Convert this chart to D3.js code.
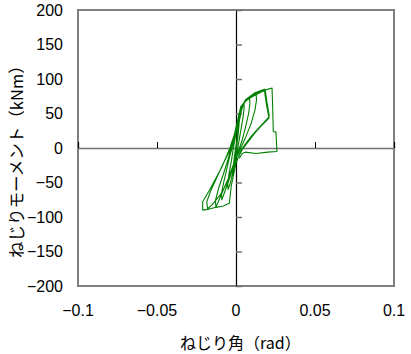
<!DOCTYPE html>
<html><head><meta charset="utf-8">
<script src="https://cdn.jsdelivr.net/npm/d3@7"></script>
<style>
html,body{margin:0;padding:0;background:#fff;}
text{font-family:"Liberation Sans",Arial,sans-serif;}
.jp{font-family:"Noto Sans CJK JP",sans-serif;}
</style></head>
<body><svg id="c" width="411" height="354"></svg>
<script>
// rotation (rad)
const rotation = [
0,0.0005,0.001,0.0018,0.0022,0.0018,0.001,0,-0.001,-0.0018,-0.0022,-0.0018,-0.001,0,
0.001,0.002,0.0035,0.005,0.0052,0.0045,0.003,0.0015,0,-0.002,-0.0035,-0.005,-0.0052,-0.0045,-0.003,-0.0018,0,
0.0015,0.003,0.0055,0.0085,0.0088,0.008,0.006,0.004,0.001,-0.002,-0.005,-0.0075,-0.009,-0.0092,-0.008,-0.006,-0.004,-0.0025,0,
0.002,0.0045,0.008,0.0127,0.013,0.012,0.0095,0.006,0.003,-0.001,-0.005,-0.009,-0.0127,-0.013,-0.011,-0.008,-0.005,-0.003,0,
0.0025,0.006,0.012,0.018,0.0185,0.0195,0.0205,0.021,0.0195,0.016,0.012,0.008,0.004,0,-0.005,-0.01,-0.015,-0.018,-0.0185,-0.016,-0.012,-0.008,-0.004,-0.002,0.001,
0.003,0.006,0.01,0.015,0.0184,0.0195,0.0204,0.021,0.0205,0.018,0.014,0.01,0.006,0.003,0,-0.003,-0.0042,-0.008,-0.0127,-0.018,-0.0211,-0.0211,-0.017,-0.013,-0.009,-0.004,-0.001,0.002,0.0053,
0.01,0.015,0.02,0.0228,0.0232,0.0236,0.0253,0.0259,0.02,0.0127,0.006,0.004,0.002
];
// torsional moment (kNm)
const moment = [
0,12,25,38,42,30,12,-5,-20,-35,-40,-28,-12,3,
20,38,55,66,60,45,25,5,-15,-35,-50,-60,-52,-38,-20,-2,22,
40,55,66,73,65,50,30,12,-8,-30,-50,-66,-75,-66,-52,-32,-12,0,25,
48,64,72,79,70,55,35,15,0,-20,-45,-66,-86,-76,-58,-38,-16,0,30,
55,70,80,85,75,60,48,44,40,32,22,10,-2,-20,-48,-68,-82,-88,-78,-62,-42,-22,-4,10,35,
60,68,75,82,85,68,55,47,44,38,28,18,6,-4,-22,-55,-80,-84,-86,-89,-90,-78,-62,-45,-28,-1,20,45,67,
74,80,85,87,60,24,23,-5,-6,-8,-6,-8,-15
];
const xTicks = [-0.1,-0.05,0,0.05,0.1];
const yTicks = [-200,-150,-100,-50,0,50,100,150,200];
const xTitle = "ねじり角（rad）";
const yTitle = "ねじりモーメント（kNm）";

const L=78,R=394,T=10,B=286;
const x=d3.scaleLinear().domain([-0.1,0.1]).range([L,R]);
const y=d3.scaleLinear().domain([-200,200]).range([B,T]);
const svg=d3.select("#c");
const fmt=v=>(v<0?"\u2212":"")+String(Math.abs(v));

svg.append("rect").attr("x",L).attr("y",T).attr("width",R-L).attr("height",B-T)
  .attr("fill","none").attr("stroke","#808080").attr("stroke-width",2);

// horizontal zero axis with ticks up
const gx=svg.append("g").attr("transform",`translate(0,${y(0)})`)
  .call(d3.axisTop(x).tickValues(xTicks).tickSize(6).tickFormat(""));
gx.select(".domain").attr("stroke","#707070").attr("stroke-width",1.5);
gx.selectAll(".tick line").attr("stroke","#000");
// vertical zero axis with ticks right
const gy=svg.append("g").attr("transform",`translate(${x(0)},0)`)
  .call(d3.axisRight(y).tickValues(yTicks).tickSize(6).tickFormat(""));
gy.select(".domain").attr("stroke","#000").attr("stroke-width",1.2);
gy.selectAll(".tick line").attr("stroke","#707070").attr("stroke-width",1.5);

// tick labels
svg.append("g").selectAll("text").data(yTicks).join("text")
  .attr("x",63).attr("y",d=>y(d)).attr("dy","0.36em").attr("text-anchor","end")
  .attr("font-size",16).attr("fill","#000").text(fmt);
svg.append("g").selectAll("text").data(xTicks).join("text")
  .attr("x",d=>x(d)).attr("y",316).attr("text-anchor","middle")
  .attr("font-size",16).attr("fill","#000").text(fmt);

// data
const pts=rotation.map((r,i)=>[r,moment[i]]);
svg.append("path").datum(pts)
  .attr("d",d3.line().x(d=>x(d[0])).y(d=>y(d[1])))
  .attr("fill","none").attr("stroke","#008000").attr("stroke-width",1.1).attr("stroke-linejoin","round");

svg.append("text").attr("class","jp").attr("x",180).attr("y",349)
  .attr("font-size",16).attr("fill","#000").text(xTitle);
svg.append("text").attr("class","jp").attr("transform","translate(23,258) rotate(-90)")
  .attr("font-size",16.5).attr("fill","#000").text(yTitle);
</script></body></html>
